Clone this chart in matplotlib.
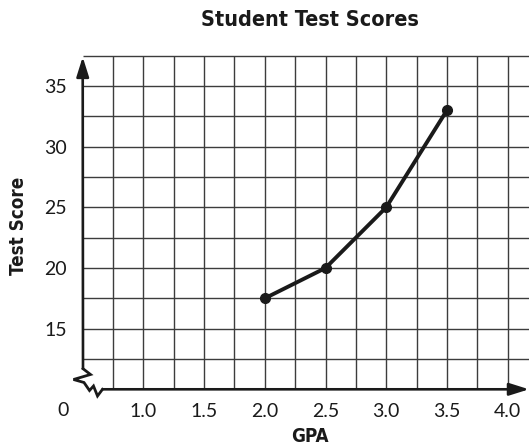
import matplotlib
matplotlib.use('Agg')
import matplotlib.pyplot as plt
import numpy as np

# data
gpa = [2.0, 2.5, 3.0, 3.5]
score = [17.5, 20, 25, 33]
x_ticks = [1.0, 1.5, 2.0, 2.5, 3.0, 3.5, 4.0]
x_labels = ['1.0', '1.5', '2.0', '2.5', '3.0', '3.5', '4.0']
y_ticks = [15, 20, 25, 30, 35]
y_labels = ['15', '20', '25', '30', '35']

title_font = ['DejaVu Sans']
tick_font = ['Lato', 'DejaVu Sans']

x0, x1 = 0.5, 4.176
y0, y1 = 10, 37.5
px_x = 121.4   # pixels per GPA unit
px_y = 12.13   # pixels per score unit

fig = plt.figure(figsize=(5.29, 4.47), dpi=100)
ax = fig.add_axes([82.7 / 529, 1 - 389.3 / 447, 1 - 82.7 / 529, (389.3 - 55.7) / 447])
ax.set_xlim(x0, x1)
ax.set_ylim(y0, y1)
for s in ax.spines.values():
    s.set_visible(False)

# grid
ax.vlines(np.arange(0.75, 4.01, 0.25), y0, y1, color='#3c3c3c', lw=1.0, clip_on=False, zorder=1)
ax.hlines(np.arange(12.5, 37.6, 2.5), x0, x1, color='#3c3c3c', lw=1.0, clip_on=False, zorder=1)


def pix(px, py):
    # image pixel -> data coords (for the axis break decoration)
    return 0.5 + (px - 82.7) / px_x, 10 + (389.3 - py) / px_y


# axis break zigzag
zig = [pix(83.0, 368.7), pix(90.5, 374.5), pix(73.5, 379.5), pix(84.0, 382.5),
       pix(89.5, 390.5), pix(93.5, 386.0), pix(97.5, 396.0), pix(102.5, 389.3)]
ax.plot([p[0] for p in zig], [p[1] for p in zig], color='#1a1a1a', lw=2.0,
        solid_joinstyle='miter', clip_on=False, zorder=3)

# axes with arrows
arr = dict(arrowstyle='-|>,head_length=0.7,head_width=0.22', lw=1.9, color='#1a1a1a',
           shrinkA=0, shrinkB=0, mutation_scale=17)
ax.annotate('', xy=(x0, y1 - 0.1), xytext=zig[0], arrowprops=arr, annotation_clip=False, zorder=3)
ax.annotate('', xy=(x1, y0), xytext=zig[-1], arrowprops=arr, annotation_clip=False, zorder=3)

# data
ax.plot(gpa, score, color='#1a1a1a', lw=2.8, marker='o', ms=7, zorder=4, clip_on=False)

ax.set_xticks(x_ticks)
ax.set_xticklabels(x_labels, family=tick_font, fontsize=14, color='#1a1a1a')
ax.set_yticks(y_ticks)
ax.set_yticklabels(y_labels, family=tick_font, fontsize=14, color='#1a1a1a')
ax.tick_params(length=0)
ax.tick_params(axis='x', pad=10)
ax.tick_params(axis='y', pad=11.5)

fig.text(63 / 529, 1 - 411 / 447, '0', family=tick_font, fontsize=14, color='#1a1a1a',
         ha='center', va='center')

fig.text(310 / 529, 1 - 20 / 447, 'Student Test Scores', family=title_font, fontweight='bold',
         fontstretch='condensed', fontsize=15.5, color='#1a1a1a', ha='center', va='center')
fig.text(310 / 529, 1 - 437 / 447, 'GPA', family=title_font, fontweight='bold',
         fontstretch='condensed', fontsize=13.5, color='#1a1a1a', ha='center', va='center')
fig.text(19 / 529, 1 - 226 / 447, 'Test Score', family=title_font, fontweight='bold',
         fontstretch='condensed', fontsize=13.5, color='#1a1a1a', ha='center', va='center',
         rotation=90)

fig.savefig('out.png', dpi=100)
